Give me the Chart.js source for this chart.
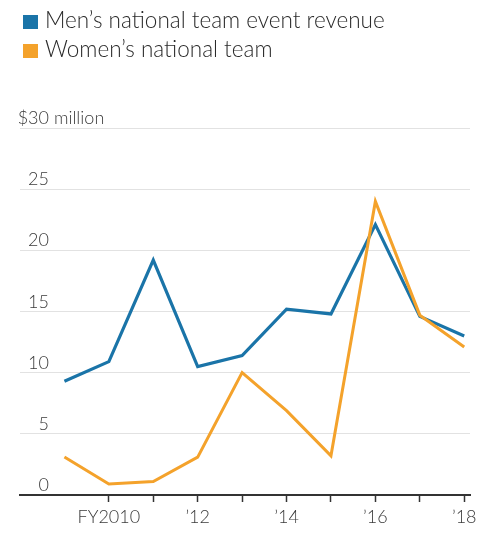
<!DOCTYPE html>
<html>
<head>
<meta charset="utf-8">
<script src="https://cdn.jsdelivr.net/npm/chart.js@4"></script>
<style>
  body { margin: 0; background: #fff; }
  #wrap { position: relative; width: 488px; height: 544px; }
  .legend { position: absolute; left: 23px; top: 5px; font-family: Lato, sans-serif; font-size: 22.5px; color: #2a2a2a; font-weight: 300; }
  .legend div { height: 29px; line-height: 29px; white-space: nowrap; }
  .legend span { display: inline-block; width: 15px; height: 14px; margin-right: 7px; vertical-align: -1px; }
</style>
</head>
<body>
<div id="wrap">
  <canvas id="chart" width="488" height="544"></canvas>
  <div class="legend">
    <div><span style="background:#1a74a8"></span>Men’s national team event revenue</div>
    <div><span style="background:#f4a22b"></span>Women’s national team</div>
  </div>
</div>
<script>
// fiscal years
const years = [2009, 2010, 2011, 2012, 2013, 2014, 2015, 2016, 2017, 2018];
// revenue, $ million
const mensRevenue = [9.3, 10.9, 19.2, 10.5, 11.4, 15.2, 14.8, 22.1, 14.6, 13.0];
const womensRevenue = [3.1, 0.9, 1.1, 3.1, 10.0, 6.9, 3.2, 24.0, 14.7, 12.1];

const xTickYears = [2010, 2011, 2012, 2013, 2014, 2015, 2016, 2017, 2018];
const xTickLabels = ["FY2010", "", "’12", "", "’14", "", "’16", "", "’18"];
const yTicks = [0, 5, 10, 15, 20, 25, 30];

const toPoints = arr => arr.map((v, i) => ({ x: years[i], y: v }));

// y labels sit above the gridlines, right aligned
const yLabelPlugin = {
  id: "yLabels",
  afterDraw(chart) {
    const ctx = chart.ctx;
    const y = chart.scales.y;
    ctx.save();
    ctx.font = "300 18px Lato, sans-serif";
    ctx.fillStyle = "#3a3a3a";
    ctx.textBaseline = "alphabetic";
    yTicks.forEach(v => {
      const py = y.getPixelForValue(v) - 4;
      ctx.textAlign = "right";
      if (v === 30) {
        ctx.fillText("$" + v, 49, py);
        ctx.textAlign = "left";
        ctx.fillText(" million", 49, py);
      } else {
        ctx.fillText(String(v), 49, py);
      }
    });
    ctx.restore();
  }
};

new Chart(document.getElementById("chart"), {
  type: "line",
  data: {
    datasets: [
      { label: "Women’s national team", data: toPoints(womensRevenue), borderColor: "#f4a22b", borderWidth: 3, pointRadius: 0, tension: 0 },
      { label: "Men’s national team event revenue", data: toPoints(mensRevenue), borderColor: "#1a74a8", borderWidth: 3.2, pointRadius: 0, tension: 0 }
    ]
  },
  options: {
    responsive: false,
    animation: false,
    layout: { padding: { left: 20, right: 18, top: 128, bottom: 0 } },
    plugins: { legend: { display: false }, tooltip: { enabled: false } },
    scales: {
      x: {
        type: "linear",
        min: 2008,
        max: 2018.13,
        afterBuildTicks: s => { s.ticks = xTickYears.map(v => ({ value: v })); },
        afterFit: s => { s.height = 49; },
        border: { color: "#333", width: 2 },
        grid: { drawOnChartArea: false, drawTicks: true, tickLength: 7, color: "#333", tickWidth: 1.5 },
        ticks: {
          autoSkip: false,
          maxRotation: 0,
          padding: 4,
          color: "#3a3a3a",
          font: { family: "Lato, sans-serif", size: 18, weight: 300 },
          callback: v => xTickLabels[xTickYears.indexOf(v)]
        }
      },
      y: {
        min: 0,
        max: 30,
        afterBuildTicks: s => { s.ticks = yTicks.map(v => ({ value: v })); },
        afterFit: s => { s.width = 0; },
        border: { display: false },
        grid: { color: "#e2e2e2", lineWidth: 1, drawTicks: false },
        ticks: { display: false }
      }
    }
  },
  plugins: [yLabelPlugin]
});
</script>
</body>
</html>
